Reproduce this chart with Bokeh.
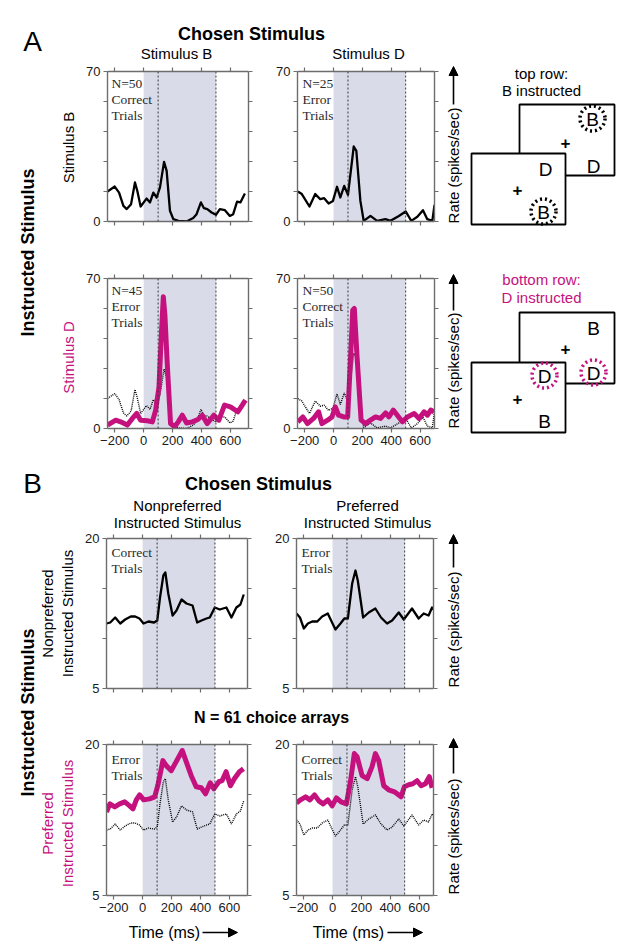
import math
from bokeh.plotting import figure
from bokeh.layouts import row, column
from bokeh.models import Range1d, LinearAxis, FixedTicker, BoxAnnotation, Span, Arrow, NormalHead
from bokeh.core.properties import value
from bokeh.embed import file_html
from bokeh.resources import INLINE

SANS = "Liberation Sans"
SERIF = "Liberation Serif"
MAG = "#c5117d"
SHADE = "#d9dbe8"
AXC = "#6d6d6d"

# ---------------- data ----------------
x_ticks = [-200, 0, 200, 400, 600]
a_y_ticks = [0, 70]
a_y_minor = [14, 28, 42, 56]
b_y_ticks = [5, 20]
b_y_minor = [10, 15]
stim_window = [0, 500]
event_lines = [100, 500]

# Panel A, instructed B, chosen B (correct)
t_a_bb = [-250, -200, -170, -140, -117, -87, -60, -44, -21, 20, 44, 67, 90, 113, 141, 159, 182, 205, 240,
          297, 343, 366, 396, 417, 440, 470, 500, 527, 562, 596, 619, 646, 669, 700]
r_a_bb = [14, 16.3, 13.5, 7.3, 5.8, 8.1, 18.2, 14.3, 7, 10.7, 8.9, 13.5, 11.2, 15.9, 27.8, 23.6, 5, 1.1, 0.3,
          0, 1.6, 3.4, 8.9, 6.2, 5.8, 4.2, 3.1, 5.8, 5.3, 2.6, 3.4, 9.3, 8.9, 13.1]
# Panel A, instructed B, chosen D (error)
t_a_bd = [-248, -220, -167, -127, -92, -65, -34, -4, 24, 47, 74, 100, 140, 158, 186, 209, 256, 302, 360,
          395, 453, 500, 539, 581, 620, 650, 685, 700]
r_a_bd = [14, 12.8, 7, 12.8, 10.4, 10.9, 8.4, 9.6, 16.2, 11.2, 16.6, 12.4, 35, 33, 9.6, 0.3, 2.6, 0.3, 1.1,
          0.3, 2.6, 4.7, 0.3, 2.2, 5.3, 1.1, 0.3, 7.8]
# Panel A, instructed D, chosen B (error)
t_a_db = [-250, -193, -159, -113, -78, -48, -21, 25, 60, 83, 106, 124, 136, 147, 163, 186, 214, 239, 267,
          297, 336, 375, 405, 439, 485, 520, 559, 600, 651, 674, 704]
r_a_db = [1.6, 3.9, 3.1, 1.6, 4.7, 7, 3.9, 3.6, 3.1, 8.6, 19.4, 45.9, 61.5, 52.9, 30.3, 2.3, 0.8, 3.1, 6.2,
          2.6, 3.1, 4.2, 6.2, 2.3, 6.2, 3.9, 10.9, 10.1, 7.8, 10.1, 13.2]
# Panel A, instructed D, chosen D (correct)
t_a_dd = [-248, -213, -181, -139, -104, -81, -41, -11, 12, 35, 70, 98, 116, 133, 144, 163, 191, 221, 256,
          291, 326, 361, 384, 414, 442, 477, 512, 559, 593, 628, 651, 674, 697]
r_a_dd = [3.1, 5.4, 2.3, 4.7, 7.8, 2.3, 3.9, 5.4, 10.1, 6.2, 5.4, 5.4, 30.3, 55.2, 56, 33.4, 3.9, 2.3, 3.9,
          5.4, 4.7, 7.3, 5.4, 8.6, 6.2, 3.1, 5.4, 7, 4.7, 7.8, 6.2, 8.6, 7.8]

# Panel B, instructed nonpreferred, chosen nonpreferred (correct)
t_b_nn = [-250, -224, -190, -155, -121, -82, -52, -22, 6, 40, 79, 101, 120, 143, 157, 177, 207, 234, 269,
          303, 345, 377, 407, 441, 464, 499, 533, 579, 614, 648, 676, 699]
r_b_nn = [11.5, 11.6, 12.1, 11.5, 11.9, 12.2, 12.2, 12.0, 11.5, 11.7, 11.6, 11.8, 14.1, 16.3, 16.6, 14.5,
          12.3, 12.8, 13.9, 13.5, 13.3, 11.6, 11.8, 12.0, 12.1, 13.1, 12.9, 13.1, 12.1, 13.1, 13.4, 14.4]
# Panel B, instructed nonpreferred, chosen preferred (error)
t_b_np = [-250, -226, -199, -171, -141, -106, -72, -33, -10, 20, 55, 82, 106, 136, 159, 175, 212, 251, 297,
          336, 378, 413, 459, 494, 551, 597, 632, 666, 690, 700]
r_b_np = [12.5, 12.1, 11.0, 11.5, 11.7, 11.7, 12.2, 12.5, 11.8, 10.9, 11.5, 12.0, 12.0, 15.5, 16.8, 15.8,
          12.1, 12.6, 13.0, 12.1, 11.5, 11.8, 12.6, 11.9, 13.0, 12.0, 12.5, 12.3, 13.1, 12.9]
# Panel B, instructed preferred, chosen nonpreferred (error)
t_b_pn = [-250, -227, -193, -159, -124, -90, -67, -44, -21, 7, 48, 83, 106, 140, 163, 198, 232, 274, 301,
          336, 370, 405, 435, 467, 492, 527, 549, 577, 607, 634, 669, 697]
r_b_pn = [13.3, 14.1, 13.8, 14.1, 14.3, 13.9, 13.6, 14.5, 15.0, 14.5, 14.6, 14.8, 16.0, 18.4, 17.9, 17.4,
          18.3, 19.4, 18.3, 16.9, 15.8, 15.7, 15.1, 16.2, 15.6, 16.3, 16.4, 17.3, 15.9, 16.6, 17.3, 17.6]
# Panel B, instructed preferred, chosen preferred (correct)
t_b_pp = [-250, -222, -187, -157, -125, -95, -65, -33, -3, 27, 59, 96, 124, 151, 170, 205, 240, 274, 297,
          320, 355, 389, 429, 475, 498, 528, 556, 586, 614, 644, 671, 690]
r_b_pp = [14.2, 14.5, 14.8, 14.5, 15.0, 14.4, 14.1, 14.5, 13.9, 14.7, 14.3, 14.1, 16.3, 19.1, 18.8, 16.9,
          16.6, 17.8, 19.1, 18.4, 15.9, 15.5, 15.3, 14.8, 15.8, 16.0, 16.1, 16.4, 15.9, 16.1, 16.8, 15.7]


# ---------------- helpers ----------------
FRAMES = {}


def canvas(x0, x1, y0, y1):
    p = figure(width=x1 - x0, height=y1 - y0, x_range=Range1d(x0, x1), y_range=Range1d(-y1, -y0),
               toolbar_location=None, output_backend="svg", x_axis_location=None, y_axis_location=None,
               min_border=0)
    p.outline_line_color = None
    p.grid.visible = False
    return p


def txt(p, x, y, s, size, color="black", bold=False, angle=0.0, font=SANS, align="center"):
    p.text(x=[x], y=[-y], text=[s], text_font=value(font), text_font_size=f"{size}px",
           text_color=color, text_font_style="bold" if bold else "normal", angle=angle,
           text_align=align, text_baseline="middle")


def arrow(p, x0, y0, x1, y1):
    p.add_layout(Arrow(end=NormalHead(size=9, fill_color="black", line_color="black", line_width=1),
                       x_start=x0, y_start=-y0, x_end=x1, y_end=-y1,
                       line_color="black", line_width=1.6))


def style_axis(ax):
    ax.axis_line_color = AXC
    ax.axis_line_width = 1.4
    ax.major_tick_line_color = AXC
    ax.minor_tick_line_color = AXC
    ax.major_tick_line_width = 1.2
    ax.minor_tick_line_width = 1.2
    ax.major_tick_out = 4
    ax.major_tick_in = 0
    ax.minor_tick_out = 4
    ax.minor_tick_in = 0
    ax.major_label_text_font = SANS
    ax.major_label_text_font_size = "13px"
    ax.major_label_text_color = "#1a1a1a"
    ax.major_label_standoff = 3


def panel(X0, X1, Y0, Y1, fx0, fx1, fy0, fy1, xend, yr, yticks, yminor, show_x):
    p = figure(width=X1 - X0, height=Y1 - Y0, x_range=Range1d(-250, xend), y_range=Range1d(*yr),
               toolbar_location=None, output_backend="svg",
               min_border_left=fx0 - X0, min_border_right=X1 - fx1,
               min_border_top=fy0 - Y0, min_border_bottom=Y1 - fy1)
    p.outline_line_color = None
    p.grid.visible = False
    p.add_layout(LinearAxis(), "above")
    p.add_layout(LinearAxis(), "right")
    for ax in p.axis:
        style_axis(ax)
    # labelled axes
    p.left[0].ticker = FixedTicker(ticks=yticks, minor_ticks=yminor)
    # tick-only axes (ticks drawn as unlabelled minor ticks)
    p.right[0].ticker = FixedTicker(ticks=[], minor_ticks=yticks + yminor)
    p.above[0].ticker = FixedTicker(ticks=[], minor_ticks=x_ticks)
    if show_x:
        p.below[0].ticker = FixedTicker(ticks=x_ticks)
    else:
        p.below[0].ticker = FixedTicker(ticks=[], minor_ticks=x_ticks)
    for ax in (p.right[0], p.above[0]) + (() if show_x else (p.below[0],)):
        ax.major_label_standoff = 0
    p.add_layout(BoxAnnotation(left=stim_window[0], right=stim_window[1], fill_color=SHADE, fill_alpha=1,
                               line_color=None, level="underlay"))
    for loc in event_lines:
        p.add_layout(Span(location=loc, dimension="height", line_color="#3a3a3a", line_width=1,
                          line_dash="2 2"))
    FRAMES[p.id] = (fx1 - fx0, fy1 - fy0, xend, yr)
    return p


def note(p, lines, dx, dys):
    fw, fh, xend, yr = FRAMES[p.id]
    for s, dy in zip(lines, dys):
        xd = -250 + dx * (xend + 250) / fw
        yd = yr[1] - dy * (yr[1] - yr[0]) / fh
        p.text(x=[xd], y=[yd], text=[s], text_font=value(SERIF), text_font_size="13.5px",
               text_color="#2a2a2a", text_align="left", text_baseline="middle")


def solid(p, t, r):
    p.line(t, r, line_color="black", line_width=2.3, line_join="round")


def thick(p, t, r):
    p.line(t, r, line_color=MAG, line_width=5, line_join="round")


def dotted(p, t, r):
    p.line(t, r, line_color="black", line_width=1.4, line_dash="1 1")


# ---------------- panel A ----------------
headerA = canvas(0, 630, 0, 62)
txt(headerA, 32, 41, "A", 28)
txt(headerA, 251, 33, "Chosen Stimulus", 18, bold=True)
txt(headerA, 176, 53, "Stimulus B", 15)
txt(headerA, 368, 53, "Stimulus D", 15)

leftA = canvas(0, 80, 62, 460)
txt(leftA, 27, 252, "Instructed Stimulus", 18, bold=True, angle=math.pi / 2)
txt(leftA, 68, 147, "Stimulus B", 15, angle=math.pi / 2)
txt(leftA, 68, 357, "Stimulus D", 15, color=MAG, angle=math.pi / 2)

pA1 = panel(80, 262, 62, 250, 107, 248, 71, 221, 725, (0, 70), a_y_ticks, a_y_minor, False)
solid(pA1, t_a_bb, r_a_bb)
note(pA1, ["N=50", "Correct", "Trials"], 4, [12, 28, 44])

pA2 = panel(262, 442, 62, 250, 297, 434, 71, 221, 700, (0, 70), a_y_ticks, a_y_minor, False)
solid(pA2, t_a_bd, r_a_bd)
note(pA2, ["N=25", "Error", "Trials"], 5, [12, 28, 44])

pA3 = panel(80, 262, 250, 460, 107, 248, 278, 428, 725, (0, 70), a_y_ticks, a_y_minor, True)
dotted(pA3, t_a_bb, r_a_bb)
thick(pA3, t_a_db, r_a_db)
note(pA3, ["N=45", "Error", "Trials"], 4, [12, 28, 44])

pA4 = panel(262, 442, 250, 460, 297, 434, 278, 428, 700, (0, 70), a_y_ticks, a_y_minor, True)
dotted(pA4, t_a_bd, r_a_bd)
thick(pA4, t_a_dd, r_a_dd)
note(pA4, ["N=50", "Correct", "Trials"], 5, [12, 28, 44])

rightA = canvas(442, 630, 62, 460)
txt(rightA, 453, 165, "Rate (spikes/sec)", 15, angle=math.pi / 2)
arrow(rightA, 453, 104, 453, 66)
txt(rightA, 453, 370, "Rate (spikes/sec)", 15, angle=math.pi / 2)
arrow(rightA, 453, 310, 453, 274)

# schematic displays: (left, right, top, bottom) of screens; letters (x, y, text, highlighted, colour)
schem_titles = [("top row:", 541, 73, "black"), ("B instructed", 541, 90, "black"),
                ("bottom row:", 541, 279, MAG), ("D instructed", 541, 297, MAG)]
schem_screens = [(519, 614, 104, 175), (471, 565, 153, 224), (519, 614, 312, 383), (471, 565, 362, 432)]
schem_items = [
    [(592, 118, "B", True, "black"), (565, 142, "+", False, "black"), (593, 165, "D", False, "black")],
    [(545, 168, "D", False, "black"), (517, 189, "+", False, "black"), (543, 211, "B", True, "black")],
    [(593, 327, "B", False, "black"), (565, 348, "+", False, "black"), (593, 372, "D", True, MAG)],
    [(544, 375, "D", True, MAG), (517, 398, "+", False, "black"), (544, 420, "B", False, "black")],
]
for s, x, y, c in schem_titles:
    txt(rightA, x, y, s, 15, color=c)
for (l, r, t, b), items in zip(schem_screens, schem_items):
    rightA.quad(left=[l], right=[r], top=[-t], bottom=[-b], fill_color="white", line_color="black",
                line_width=1.8)
    for x, y, s, hl, c in items:
        if s == "+":
            txt(rightA, x, y, s, 17, bold=True)
        else:
            txt(rightA, x, y + 1, s, 19)
        if hl:
            rightA.scatter([x], [-y], marker="circle", size=25, fill_color=None, line_color=c,
                           line_width=3.5, line_dash="2 3")

# ---------------- panel B ----------------
headerB = canvas(0, 630, 460, 532)
txt(headerB, 32, 483, "B", 28)
txt(headerB, 258, 483, "Chosen Stimulus", 18, bold=True)
txt(headerB, 177, 505, "Nonpreferred", 15)
txt(headerB, 177, 522, "Instructed Stimulus", 15)
txt(headerB, 367, 505, "Preferred", 15)
txt(headerB, 367, 522, "Instructed Stimulus", 15)

leftB = canvas(0, 80, 532, 948)
txt(leftB, 27, 712, "Instructed Stimulus", 18, bold=True, angle=math.pi / 2)
txt(leftB, 47, 613, "Nonpreferred", 15, angle=math.pi / 2)
txt(leftB, 67, 613, "Instructed Stimulus", 15, angle=math.pi / 2)
txt(leftB, 47, 823, "Preferred", 15, color=MAG, angle=math.pi / 2)
txt(leftB, 67, 823, "Instructed Stimulus", 15, color=MAG, angle=math.pi / 2)

pB1 = panel(80, 262, 532, 705, 106, 247, 538, 688, 725, (5, 20), b_y_ticks, b_y_minor, False)
solid(pB1, t_b_nn, r_b_nn)
note(pB1, ["Correct", "Trials"], 5, [14, 30])

pB2 = panel(262, 442, 532, 705, 296, 433, 538, 688, 700, (5, 20), b_y_ticks, b_y_minor, False)
solid(pB2, t_b_np, r_b_np)
note(pB2, ["Error", "Trials"], 5, [14, 30])

midB = canvas(80, 442, 705, 730)
txt(midB, 271, 717, "N = 61 choice arrays", 16, bold=True)

pB3 = panel(80, 262, 730, 920, 106, 247, 744, 895, 725, (5, 20), b_y_ticks, b_y_minor, True)
dotted(pB3, t_b_nn, r_b_nn)
thick(pB3, t_b_pn, r_b_pn)
note(pB3, ["Error", "Trials"], 5, [15, 31])

pB4 = panel(262, 442, 730, 920, 296, 433, 744, 895, 700, (5, 20), b_y_ticks, b_y_minor, True)
dotted(pB4, t_b_np, r_b_np)
thick(pB4, t_b_pp, r_b_pp)
note(pB4, ["Correct", "Trials"], 5, [15, 31])

footB = canvas(80, 442, 920, 948)
txt(footB, 164, 932, "Time (ms)", 16)
arrow(footB, 202, 932, 237, 932)
txt(footB, 348, 932, "Time (ms)", 16)
arrow(footB, 387, 932, 422, 932)

rightB = canvas(442, 630, 532, 948)
txt(rightB, 453, 629, "Rate (spikes/sec)", 15, angle=math.pi / 2)
arrow(rightB, 453, 567, 453, 534)
txt(rightB, 453, 836, "Rate (spikes/sec)", 15, angle=math.pi / 2)
arrow(rightB, 453, 773, 453, 738)

layout = column(
    headerA,
    row(leftA, column(row(pA1, pA2), row(pA3, pA4)), rightA),
    headerB,
    row(leftB, column(row(pB1, pB2), midB, row(pB3, pB4), footB), rightB),
)

open("out.html", "w").write(file_html(layout, INLINE))
